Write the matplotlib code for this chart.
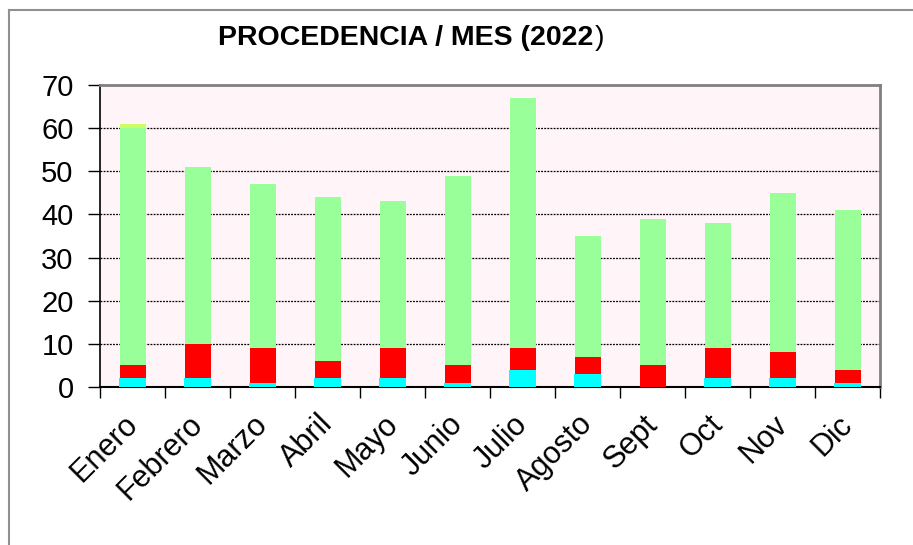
import matplotlib
matplotlib.use("Agg")
import matplotlib.pyplot as plt
from matplotlib.lines import Line2D
import matplotlib.transforms as mtransforms
import numpy as np

months = ["Enero", "Febrero", "Marzo", "Abril", "Mayo", "Junio", "Julio",
          "Agosto", "Sept", "Oct", "Nov", "Dic"]
cyan_vals = [2, 2, 1, 2, 2, 1, 4, 3, 0, 2, 2, 1]
red_vals = [3, 8, 8, 4, 7, 4, 5, 4, 5, 7, 6, 3]
green_vals = [55, 41, 38, 38, 34, 44, 58, 28, 34, 29, 37, 37]
yellow_vals = [1, 0, 0, 0, 0, 0, 0, 0, 0, 0, 0, 0]
yticks = [0, 10, 20, 30, 40, 50, 60, 70]

plt.rcParams['font.family'] = ['Liberation Sans', 'DejaVu Sans']

fig = plt.figure(figsize=(9.13, 5.45), dpi=100)
ax = fig.add_axes([100/913, 1-387/545, 780/913, (387-85)/545])
ax.set_facecolor('#FFF4F7')

x = np.arange(len(months))
c = np.array(cyan_vals, float)
r = np.array(red_vals, float)
g = np.array(green_vals, float)
yv = np.array(yellow_vals, float)

ax.bar(x, c, width=0.43, color='#00FFFF', edgecolor='none', zorder=3)
ax.bar(x, r, width=0.4, bottom=c, color='#FF0000', edgecolor='none', zorder=3)
ax.bar(x, g, width=0.4, bottom=c + r, color='#99FF99', edgecolor='none', zorder=3)
ax.bar(x, yv, width=0.4, bottom=c + r + g, color='#CCFF66', edgecolor='none', zorder=3)

ax.set_xlim(-0.5, 11.5)
ax.set_ylim(0, 70)
ax.set_yticks(yticks)
ax.set_yticklabels([str(t) for t in yticks], fontsize=21)
ax.tick_params(axis='y', direction='out', length=9, width=1, pad=10, colors='black')

ax.set_xticks(np.arange(-0.5, 12, 1.0))
ax.set_xticklabels([])
ax.tick_params(axis='x', direction='out', length=8, width=1, colors='black')
ax.set_xticks(x, minor=True)
ax.set_xticklabels(months, minor=True, rotation=45, ha='right',
                   rotation_mode='anchor', fontsize=22)
ax.tick_params(axis='x', which='minor', length=0, pad=16)
shift = mtransforms.ScaledTranslation(-10/100, 0, fig.dpi_scale_trans)
for lab in ax.get_xticklabels(minor=True):
    lab.set_transform(lab.get_transform() + shift)

for yy in yticks[1:-1]:
    ax.axhline(yy, color='black', linestyle=(0, (1.5, 1)), linewidth=0.9, zorder=1)

ax.spines['top'].set_color('#808080')
ax.spines['top'].set_linewidth(2)
ax.spines['right'].set_color('#808080')
ax.spines['right'].set_linewidth(2)
ax.spines['left'].set_color('black')
ax.spines['bottom'].set_color('black')
ax.spines['left'].set_linewidth(1.2)
ax.spines['bottom'].set_linewidth(1.5)

# figure border
fig.add_artist(Line2D([9/913, 9/913], [0, 1-10/545], color='#909090', linewidth=1.5))
fig.add_artist(Line2D([9/913, 1], [1-10/545, 1-10/545], color='#909090', linewidth=1.5))

t1 = fig.text(218/913, 1-38/545, "PROCEDENCIA / MES (2022", fontsize=20.5,
              fontweight='bold', ha='left', va='center')
fig.canvas.draw()
bb = t1.get_window_extent()
fig.text(bb.x1/913 + 0.001, 1-38/545, ")", fontsize=20.5, ha='left', va='center')

fig.savefig('out.png', dpi=100)
